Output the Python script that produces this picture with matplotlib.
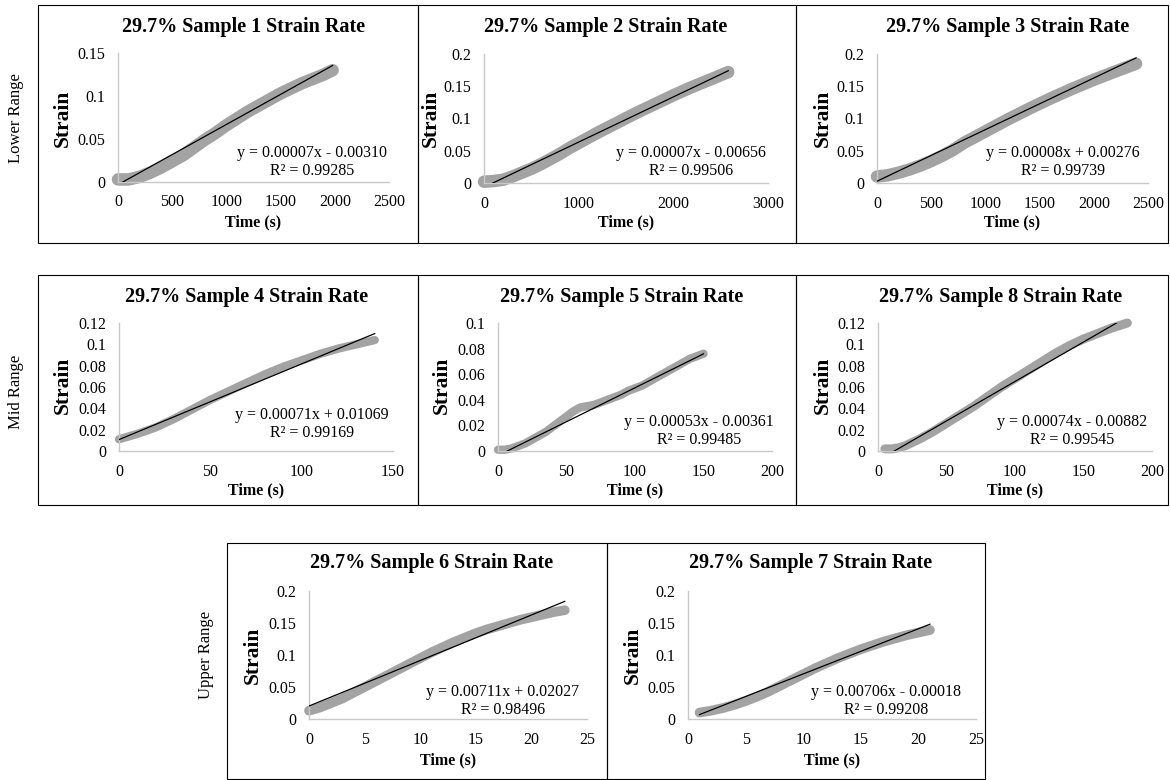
import numpy as np
import matplotlib
matplotlib.use("Agg")
import matplotlib.pyplot as plt
from matplotlib.patches import Rectangle
from matplotlib.ticker import FuncFormatter

plt.rcParams["font.family"] = ["Liberation Serif", "DejaVu Serif"]

W, H = 1170, 780

# ---- data (time s, strain) ----
s1_time = [0, 100, 200, 300, 400, 500, 600, 700, 800, 900, 1000, 1100, 1200, 1300,
           1400, 1500, 1600, 1700, 1800, 1900, 1980]
s1_strain = [0.003, 0.003, 0.006, 0.011, 0.017, 0.024, 0.031, 0.040, 0.049, 0.057, 0.066,
             0.074, 0.082, 0.089, 0.096, 0.103, 0.109, 0.115, 0.120, 0.125, 0.130]

s2_time = [0, 100, 200, 300, 400, 500, 600, 700, 800, 900, 1000, 1200, 1400, 1600,
           1800, 2000, 2200, 2400, 2580]
s2_strain = [0.002, 0.003, 0.005, 0.010, 0.016, 0.022, 0.029, 0.037, 0.045, 0.054, 0.062,
             0.078, 0.093, 0.108, 0.122, 0.136, 0.149, 0.161, 0.172]

s3_time = [0, 100, 200, 300, 400, 500, 600, 700, 800, 900, 1000, 1200, 1400, 1600,
           1800, 2000, 2200, 2390]
s3_strain = [0.010, 0.012, 0.016, 0.021, 0.027, 0.034, 0.042, 0.051, 0.062, 0.071, 0.080,
             0.098, 0.115, 0.131, 0.146, 0.160, 0.173, 0.185]

s4_time = [0, 10, 20, 30, 40, 50, 60, 70, 80, 90, 100, 110, 120, 130, 140]
s4_strain = [0.011, 0.016, 0.022, 0.030, 0.039, 0.048, 0.056, 0.064, 0.072, 0.079, 0.085,
             0.091, 0.096, 0.100, 0.104]

s5_time = [0, 5, 10, 15, 20, 25, 30, 35, 40, 45, 50, 55, 60, 65, 70, 75, 80, 85, 90, 95,
           100, 105, 110, 115, 120, 125, 130, 135, 140, 145, 150]
s5_strain = [0.001, 0.001, 0.002, 0.004, 0.006, 0.009, 0.012, 0.015, 0.019, 0.023, 0.027,
             0.031, 0.034, 0.035, 0.036, 0.038, 0.040, 0.042, 0.044, 0.047, 0.049, 0.051,
             0.054, 0.057, 0.060, 0.063, 0.066, 0.069, 0.072, 0.074, 0.076]

s8_time = [5, 10, 15, 20, 30, 40, 50, 60, 70, 80, 90, 100, 110, 120, 130, 140, 150, 160,
           170, 182]
s8_strain = [0.002, 0.002, 0.003, 0.005, 0.011, 0.018, 0.026, 0.034, 0.042, 0.051, 0.060,
             0.068, 0.076, 0.084, 0.092, 0.099, 0.105, 0.110, 0.115, 0.120]

s6_time = [0, 1, 2, 3, 4, 5, 6, 7, 8, 9, 10, 11, 12, 13, 14, 15, 16, 17, 18, 19, 20, 21,
           22, 23]
s6_strain = [0.013, 0.018, 0.025, 0.032, 0.041, 0.050, 0.059, 0.068, 0.077, 0.086, 0.095,
             0.104, 0.112, 0.120, 0.127, 0.134, 0.140, 0.145, 0.150, 0.155, 0.159, 0.163,
             0.167, 0.170]

s7_time = [1, 2, 3, 4, 5, 6, 7, 8, 9, 10, 11, 12, 13, 14, 15, 16, 17, 18, 19, 20, 21]
s7_strain = [0.010, 0.013, 0.017, 0.022, 0.028, 0.035, 0.043, 0.052, 0.061, 0.070, 0.079,
             0.087, 0.095, 0.102, 0.109, 0.115, 0.121, 0.126, 0.131, 0.135, 0.139]

# trendline equations as printed on the chart
sample_ids = [1, 2, 3, 4, 5, 8, 6, 7]
slopes = [0.00007, 0.00007, 0.00008, 0.00071, 0.00053, 0.00074, 0.00711, 0.00706]
intercepts = [-0.00310, -0.00656, 0.00276, 0.01069, -0.00361, -0.00882, 0.02027, -0.00018]
r_squared = [0.99285, 0.99506, 0.99739, 0.99169, 0.99485, 0.99545, 0.98496, 0.99208]

x_max = [2500, 3000, 2500, 150, 200, 200, 25, 25]
x_step = [500, 1000, 500, 50, 50, 50, 5, 5]
y_max = [0.15, 0.2, 0.2, 0.12, 0.1, 0.12, 0.2, 0.2]
y_step = [0.05, 0.05, 0.05, 0.02, 0.02, 0.02, 0.05, 0.05]

row_labels = ["Lower Range", "Mid Range", "Upper Range"]

series = [(s1_time, s1_strain), (s2_time, s2_strain), (s3_time, s3_strain),
          (s4_time, s4_strain), (s5_time, s5_strain), (s8_time, s8_strain),
          (s6_time, s6_strain), (s7_time, s7_strain)]

# ---- layout in pixels ----
# axes: left, right, y of zero, y of top
axes_px = [(118, 389, 182, 53), (484, 768, 183, 54), (877, 1148, 183, 54),
           (119, 393, 451, 323), (498, 772, 451, 323), (878, 1152, 451, 323),
           (309, 587, 719, 591), (688, 976, 719, 591)]
title_px = [(244, 27), (606, 27), (1008, 27), (247, 297), (622, 297), (1001, 297),
            (432, 563), (811, 563)]
ylab_px = [(63, 118), (431, 118), (823, 118), (63, 385), (442, 385), (823, 385),
           (253, 655), (633, 655)]
xlab_y = [222, 222, 222, 490, 490, 490, 760, 760]
eq_px = [(312, 153), (691, 153), (1063, 153), (312, 415), (699, 422), (1072, 422),
         (503, 692), (886, 692)]
band_lw = [9, 9, 9, 6, 6, 6.5, 7, 7]
boxes_px = [(38, 418, 5, 243), (418, 796, 5, 243), (796, 1168, 5, 243),
            (38, 418, 275, 505), (418, 796, 275, 505), (796, 1168, 275, 505),
            (227, 607, 543, 779), (607, 985, 543, 779)]
row_label_px = [(16, 118), (16, 392), (206, 655)]


def fx(px):
    return px / W


def fy(py):
    return 1 - py / H


fig = plt.figure(figsize=(W / 100, H / 100), dpi=100)

for (x0, x1, y0, y1) in boxes_px:
    fig.add_artist(Rectangle((fx(x0), fy(y1)), fx(x1) - fx(x0), fy(y0) - fy(y1),
                             transform=fig.transFigure, fill=False, ec="black", lw=0.8))

for label, (px, py) in zip(row_labels, row_label_px):
    fig.text(fx(px), fy(py), label, rotation=90, ha="center", va="center", fontsize=12)

fmt = FuncFormatter(lambda v, p: "%g" % round(v, 4))

for i, (t, s) in enumerate(series):
    l, r, b, tp = axes_px[i]
    ax = fig.add_axes([fx(l), fy(b), fx(r) - fx(l), fy(tp) - fy(b)])
    ax.plot(t, s, color="#A3A3A3", lw=band_lw[i], solid_capstyle="round", clip_on=False,
            zorder=2)
    tx = np.array([t[0], t[-1]])
    ax.plot(tx, slopes[i] * tx + intercepts[i], color="black", lw=0.9, zorder=3)
    ax.set_xlim(0, x_max[i])
    ax.set_ylim(0, y_max[i])
    ax.set_xticks(np.arange(0, x_max[i] + x_step[i] / 2, x_step[i]))
    ax.set_yticks(np.arange(0, y_max[i] + y_step[i] / 2, y_step[i]))
    ax.xaxis.set_major_formatter(fmt)
    ax.yaxis.set_major_formatter(fmt)
    ax.tick_params(length=0, labelsize=11.5)
    ax.tick_params(axis="y", pad=9)
    ax.tick_params(axis="x", pad=9)
    for side in ["top", "right"]:
        ax.spines[side].set_visible(False)
    for side in ["left", "bottom"]:
        ax.spines[side].set_color("#C8C8C8")
        ax.spines[side].set_linewidth(1.0)
    ax.patch.set_alpha(0)

    n = sample_ids[i]
    tx_, ty_ = title_px[i]
    fig.text(fx(tx_), fy(ty_), f"29.7% Sample {n} Strain Rate", ha="center", va="center",
             fontsize=14.5, fontweight="bold")
    lx, ly = ylab_px[i]
    fig.text(fx(lx), fy(ly), "Strain", rotation=90, ha="center", va="center",
             fontsize=15.5, fontweight="bold")
    fig.text(fx((l + r) / 2), fy(xlab_y[i]), "Time (s)", ha="center", va="center",
             fontsize=11.5, fontweight="bold")
    sign = "-" if intercepts[i] < 0 else "+"
    ex, ey = eq_px[i]
    fig.text(fx(ex), fy(ey), f"y = {slopes[i]:.5f}x {sign} {abs(intercepts[i]):.5f}",
             ha="center", va="center", fontsize=11.5)
    fig.text(fx(ex), fy(ey + 18), f"R² = {r_squared[i]:.5f}", ha="center", va="center",
             fontsize=11.5)

fig.savefig("out.png", dpi=100)
